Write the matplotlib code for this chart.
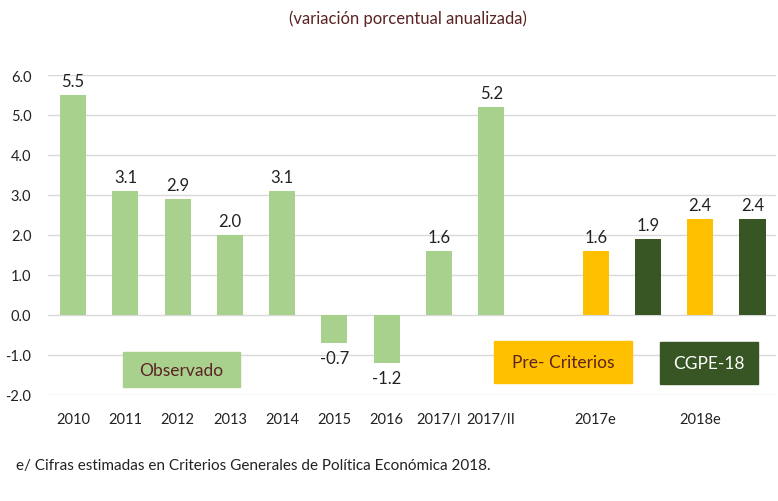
import matplotlib
matplotlib.use("Agg")
import matplotlib.pyplot as plt
from matplotlib.patches import Rectangle

plt.rcParams['font.family'] = ['Lato', 'DejaVu Sans']

# Data
obs_labels = ["2010", "2011", "2012", "2013", "2014", "2015", "2016", "2017/I", "2017/II"]
obs_values = [5.5, 3.1, 2.9, 2.0, 3.1, -0.7, -1.2, 1.6, 5.2]
est_groups = ["2017e", "2018e"]
pre_criterios = [1.6, 2.4]
cgpe18 = [1.9, 2.4]

c_obs = "#a9d18e"
c_pre = "#ffc000"
c_cgpe = "#375623"
c_text = "#5b2323"

fig = plt.figure(figsize=(7.78, 5.02), dpi=100)
ax = fig.add_axes([48/778, 1-396/502, (776-48)/778, (396-76)/502])

width = 0.5
obs_x = list(range(len(obs_values)))
pre_x = [10, 12]
cg_x = [11, 13]

ax.bar(obs_x, obs_values, width=width, color=c_obs, zorder=2)
ax.bar(pre_x, pre_criterios, width=width, color=c_pre, zorder=2)
ax.bar(cg_x, cgpe18, width=width, color=c_cgpe, zorder=2)

def label(xs, vs):
    for x, v in zip(xs, vs):
        if v >= 0:
            ax.annotate(f"{v:.1f}", (x, v), xytext=(0, 4), textcoords="offset points",
                        ha="center", va="bottom", fontsize=12, color="#222222")
        else:
            ax.annotate(f"{v:.1f}", (x, v), xytext=(0, -5), textcoords="offset points",
                        ha="center", va="top", fontsize=12, color="#222222")

label(obs_x, obs_values)
label(pre_x, pre_criterios)
label(cg_x, cgpe18)

ax.set_ylim(-2, 6)
ax.set_xlim(-0.48, 13.45)
ax.set_yticks([-2, -1, 0, 1, 2, 3, 4, 5, 6])
ax.set_yticklabels([f"{v:.1f}" for v in [-2, -1, 0, 1, 2, 3, 4, 5, 6]], fontsize=10.5, color="#222222")
ax.set_xticks(obs_x + pre_x)
ax.set_xticklabels(obs_labels + est_groups, fontsize=10.5, color="#222222")
ax.tick_params(axis="both", length=0)
ax.tick_params(axis="x", pad=12)
ax.tick_params(axis="y", pad=12)
ax.grid(axis="y", color="#d9d9d9", linewidth=1, zorder=0)
for s in ax.spines.values():
    s.set_visible(False)

# Legend boxes (figure pixel coordinates)
def box(x0, y0, x1, y1, color, text, tcolor):
    fig.patches.append(Rectangle((x0/778, 1-y1/502), (x1-x0)/778, (y1-y0)/502,
                                 transform=fig.transFigure, color=color, zorder=5))
    fig.text((x0+x1)/2/778, 1-(y0+y1)/2/502, text, ha="center", va="center",
             fontsize=12.5, color=tcolor, zorder=6)

box(123, 353, 240, 388, c_obs, "Observado", c_text)
box(494, 342, 632, 384, c_pre, "Pre- Criterios", c_text)
box(660, 343, 758, 385, c_cgpe, "CGPE-18", "white")

fig.text(408/778, 1-19/502, "(variación porcentual anualizada)", ha="center", va="center",
         fontsize=12, color=c_text)
fig.text(16/778, 1-466/502, "e/ Cifras estimadas en Criterios Generales de Política Económica 2018.",
         ha="left", va="center", fontsize=11, color="#222222")

fig.savefig("out.png", dpi=100)
